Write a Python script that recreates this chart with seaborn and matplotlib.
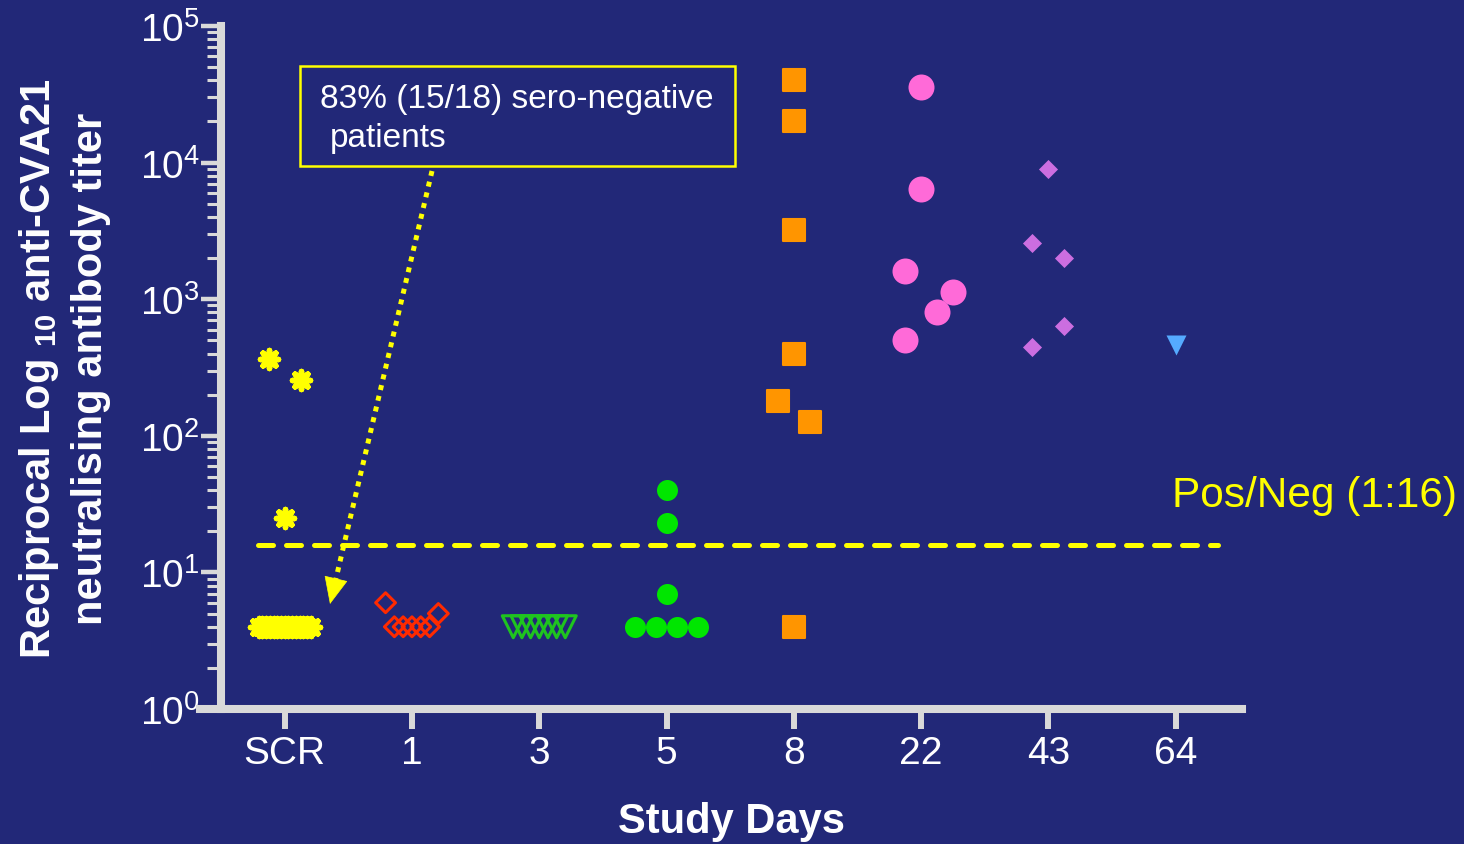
import numpy as np
import pandas as pd
import matplotlib
matplotlib.use("Agg")
import matplotlib.pyplot as plt
from matplotlib.patches import Rectangle
from matplotlib.ticker import LogLocator, NullFormatter
import seaborn as sns

# reciprocal neutralising titers, one list per study day
days = ["SCR", "1", "3", "5", "8", "22", "43", "64"]
titer_scr = [4, 4, 4, 4, 4, 4, 4, 4, 4, 4, 4, 4, 4, 4, 4, 25, 256, 362]
titer_d1 = [4, 4, 4, 4, 4, 5, 6]
titer_d3 = [4, 4, 4, 4, 4, 4, 4]
titer_d5 = [4, 4, 4, 4, 7, 23, 40]
titer_d8 = [4, 126, 180, 400, 3200, 20000, 40000]
titer_d22 = [500, 800, 1130, 1600, 6400, 36000]
titer_d43 = [450, 640, 2000, 2560, 9000]
titer_d64 = [460]
cutoff = 16

rows = []
for d, vals in zip(days, [titer_scr, titer_d1, titer_d3, titer_d5,
                          titer_d8, titer_d22, titer_d43, titer_d64]):
    for v in vals:
        rows.append({"day": d, "titer": v})
df = pd.DataFrame(rows)

BG = "#222878"
AXC = "#d9d9d9"
YEL = "#ffff00"

# marker style per day: marker, marker size (px), visual span (px), colour, line width, open?
styles = {
    "SCR": ((8, 2, 0), 18, 22, YEL, 4.0, False),
    "1": ("D", 14, 22, "#ff2a00", 2.2, True),
    "3": ("v", 22, 26, "#1fc41f", 2.2, True),
    "5": ("o", 21, 21, "#00e600", 0, False),
    "8": ("s", 23, 26, "#ff9500", 1.5, False),
    "22": ("o", 26, 26, "#ff6ad8", 0, False),
    "43": ("D", 13.5, 20, "#cc6ee0", 0, False),
    "64": ("v", 20, 20, "#55aaff", 0, False),
}

# figure geometry (px)
W, H = 1464, 845
AX_L, AX_B, AX_W, AX_H = 200, 135, 1042, 683
XLIM = (-0.665, 7.52)
PX_CAT = AX_W / (XLIM[1] - XLIM[0])
PX_DEC = AX_H / 5.0
SIDE = 16


def spread(values, span):
    # prism-like scatter layout: equal values in a row, close values side by side
    v = np.asarray(values, float)
    yp = np.log10(v) * PX_DEC
    off = np.zeros(len(v))
    uniq, counts = np.unique(v, return_counts=True)
    cnt = dict(zip(uniq, counts))
    row_half = {}
    for u, c in cnt.items():
        if c > 1:
            idx = np.where(v == u)[0]
            step = span if c * span <= 90 else min(0.4 * span, 52 / (c - 1))
            off[idx] = (np.arange(c) - (c - 1) / 2) * step
            row_half[u] = (c - 1) / 2 * step + step
    singles = sorted([i for i in range(len(v)) if cnt[v[i]] == 1], key=lambda i: -v[i])
    chains = []
    for i in singles:
        if chains and abs(yp[chains[-1][-1]] - yp[i]) < 1.15 * span:
            chains[-1].append(i)
        else:
            chains.append([i])
    pair = 0
    for ch in chains:
        if len(ch) < 2:
            continue
        h = SIDE
        for u, rh in row_half.items():
            if any(abs(yp[i] - np.log10(u) * PX_DEC) < 1.15 * span for i in ch):
                h = max(h, rh)
        for k, i in enumerate(ch):
            if k > 0 and k % 2 == 0:
                pair += 1
            sign = -1 if (k % 2 == 0) == (pair % 2 == 0) else 1
            off[i] = sign * h
        pair += 1
        # push apart anything still touching, working upwards
        placed = []
        for i in sorted(ch, key=lambda i: v[i]):
            while any(np.hypot(off[i] - off[j], yp[i] - yp[j]) < 0.95 * span for j in placed):
                off[i] += np.sign(off[i]) * SIDE
            placed.append(i)
    return off / PX_CAT


df["pos"] = 0.0
for k, d in enumerate(days):
    m = df["day"] == d
    df.loc[m, "pos"] = k + spread(df.loc[m, "titer"].values, styles[d][2])


def px_to_data(x, y):
    return ((x - AX_L) / PX_CAT + XLIM[0], 10 ** ((AX_B + AX_H - (H - y) - AX_B) * 0 + (H - AX_B - y) / PX_DEC))


sns.set_theme(style="ticks")
plt.rcParams["font.family"] = ["Liberation Sans", "DejaVu Sans"]
plt.rcParams["mathtext.fontset"] = "custom"
plt.rcParams["mathtext.rm"] = "Liberation Sans"
plt.rcParams["mathtext.bf"] = "Liberation Sans:bold"

fig = plt.figure(figsize=(W / 100, H / 100), dpi=100, facecolor=BG)
ax = fig.add_axes([AX_L / W, AX_B / H, AX_W / W, AX_H / H])
ax.set_facecolor(BG)

# threshold line
ax.axhline(cutoff, xmin=(258 - AX_L) / AX_W, xmax=(1218 - AX_L) / AX_W,
           color=YEL, lw=3.6, ls=(0, (3, 2.6)), dash_capstyle="round", zorder=2)

for d in days:
    mk, size, span, col, lw, hollow = styles[d]
    sub = df[df["day"] == d]
    s = (size * 0.72) ** 2
    if isinstance(mk, tuple):
        sns.scatterplot(data=sub, x="pos", y="titer", marker=mk, s=s, color=col,
                        linewidth=lw, ax=ax, legend=False, zorder=3)
    else:
        sns.scatterplot(data=sub, x="pos", y="titer", marker=mk, s=s, color=col,
                        edgecolor=col, linewidth=lw, ax=ax, legend=False, zorder=3)
        coll = ax.collections[-1]
        coll.set_joinstyle("round")
        if hollow:
            coll.set_facecolor("none")
            coll.set_edgecolor(col)

ax.set_yscale("log")
ax.set_ylim(1, 1e5)
ax.set_xlim(*XLIM)
ax.yaxis.set_major_locator(LogLocator(base=10, numticks=10))
ax.yaxis.set_minor_locator(LogLocator(base=10, subs=np.arange(2, 10), numticks=50))
ax.yaxis.set_minor_formatter(NullFormatter())
ax.set_xticks(range(len(days)))
ax.set_xticklabels(days)

for side in ["top", "right"]:
    ax.spines[side].set_visible(False)
ax.spines["left"].set_position(("data", -0.5))
for side in ["left", "bottom"]:
    ax.spines[side].set_linewidth(5.8)
    ax.spines[side].set_color(AXC)

ax.tick_params(axis="y", which="major", length=14.4, width=3.2, color=AXC,
               labelcolor="white", labelsize=28, pad=1)
ax.tick_params(axis="y", which="minor", length=10, width=2.2, color=AXC)
ax.tick_params(axis="x", which="major", length=14.4, width=4.3, color=AXC,
               labelcolor="white", labelsize=28, pad=4)

ax.set_ylabel(r"Reciprocal Log $_{\mathbf{10}}$ anti-CVA21" + "\n" + "neutralising antibody titer",
              fontsize=30, fontweight="bold", color="white", linespacing=1.3)
ax.yaxis.label.set_va("center")
ax.yaxis.set_label_coords((64 - AX_L) / AX_W, 0.5)
ax.set_xlabel("Study Days", fontsize=30, fontweight="bold", color="white")
ax.xaxis.label.set_va("center")
ax.xaxis.set_label_coords((731 - AX_L) / AX_W, (710 - 822) / AX_H)

ax.text(6.97, 37, "Pos/Neg (1:16)", color=YEL, fontsize=30.5, va="center", ha="left")

# annotation box and arrow
fig.add_artist(Rectangle((300 / W, 1 - 167 / H), 435 / W, 100 / H, transform=fig.transFigure,
                         fill=False, edgecolor=YEL, lw=1.8))
fig.text(320 / W, 1 - 100 / H, "83% (15/18) sero-negative", fontsize=24, color="white", va="center")
fig.text(330 / W, 1 - 138 / H, "patients", fontsize=24, color="white", va="center")

start, tip = np.array([432.0, 172.0]), np.array([330.0, 605.0])
u = (tip - start) / np.hypot(*(tip - start))
neck = tip - 20 * u
ax.annotate("", xy=px_to_data(*neck), xytext=px_to_data(*start),
            arrowprops=dict(arrowstyle="-", color=YEL, lw=3.6, linestyle=(0, (1, 1.2)),
                            capstyle="butt", shrinkA=0, shrinkB=0), zorder=4)
ax.annotate("", xy=px_to_data(*tip), xytext=px_to_data(*(tip - 22 * u)),
            arrowprops=dict(arrowstyle="-|>,head_length=0.9,head_width=0.4", color=YEL,
                            lw=0.5, mutation_scale=20, shrinkA=0, shrinkB=0), zorder=4)

fig.savefig("out.png", dpi=100, facecolor=BG)
